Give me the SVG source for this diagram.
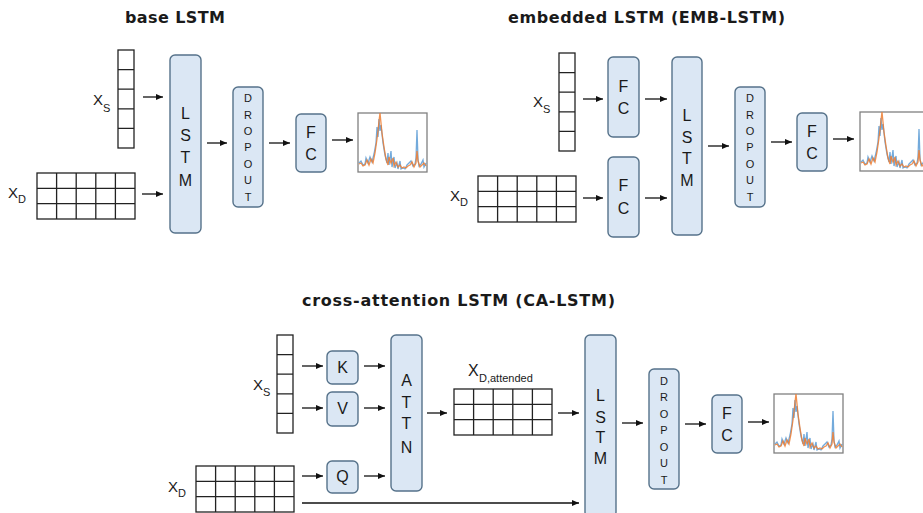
<svg xmlns="http://www.w3.org/2000/svg" xmlns:xlink="http://www.w3.org/1999/xlink" width="923" height="513" viewBox="0 0 923 513">
  <style>
    .title { font-family: "DejaVu Sans", "Liberation Sans", Arial, sans-serif; font-weight: bold; font-size: 16px; fill: #1a1a1a; }
    .lbl { font-family: "Liberation Sans", Arial, sans-serif; fill: #1a1a1a; }
    .x { font-size: 15px; }
    .sub { font-size: 11px; }
    .box { fill: #dbe7f4; stroke: #56728a; stroke-width: 1.4; }
    .big { font-family: "Liberation Sans", Arial, sans-serif; font-size: 16px; fill: #1a1a1a; text-anchor: middle; }
    .small { font-family: "Liberation Sans", Arial, sans-serif; font-size: 11px; fill: #1a1a1a; text-anchor: middle; }
    .grid { fill: #ffffff; stroke: #222222; stroke-width: 1.3; }
    .conn { stroke: #111111; stroke-width: 1.3; fill: none; marker-end: url(#arrow); }
  </style>
  <defs>
    <marker id="arrow" markerUnits="userSpaceOnUse" markerWidth="7" markerHeight="6" refX="7" refY="3" orient="auto">
      <path d="M0,0 L7,3 L0,6 z" fill="#111111"/>
    </marker>
    <!-- static-feature column vector: 5 cells -->
    <g id="vec">
      <rect class="grid" x="0" y="0" width="16" height="98"/>
      <path d="M0,19.6 H16 M0,39.2 H16 M0,58.8 H16 M0,78.4 H16" stroke="#222222" stroke-width="1.3"/>
    </g>
    <!-- dynamic-feature matrix: 5 columns x 3 rows -->
    <g id="mat">
      <rect class="grid" x="0" y="0" width="98" height="46"/>
      <path d="M19.6,0 V46 M39.2,0 V46 M58.8,0 V46 M78.4,0 V46 M0,15.33 H98 M0,30.67 H98" stroke="#222222" stroke-width="1.3"/>
    </g>
    <!-- small prediction-vs-observation time-series thumbnail -->
    <g id="plot">
      <rect x="0" y="0" width="69" height="59" fill="#ffffff" stroke="#808080" stroke-width="1.3"/>
      <path d="M1,50 L3,48 L5,52 L7,51 L8,45 L10,50 L12,44 L14,49 L16,41 L18,30 L19,14 L20,24 L21,6 L22,18 L23,12 L25,30 L27,42 L29,50 L30,40 L31,52 L33,38 L34,54 L36,44 L37,55 L39,50 L40,56 L42,48 L43,56 L45,55 L47,56 L49,52 L51,50 L53,48 L55,53 L57,51 L58,45 L59,17 L60,46 L61,53 L63,51 L65,47 L66,54 L68,50" fill="none" stroke="#5b9bd5" stroke-width="1.3" stroke-opacity="0.85"/>
      <path d="M1,51 L3,50 L5,53 L7,52 L9,47 L11,52 L13,46 L15,50 L17,40 L19,26 L20,18 L21,8 L22,0 L23,10 L24,20 L26,34 L28,46 L30,52 L31,44 L33,50 L35,45 L36,53 L38,49 L40,54 L42,52 L44,55 L46,54 L48,55 L50,53 L52,52 L54,49 L56,54 L58,50 L59,38 L60,48 L62,54 L64,52 L66,50 L68,53" fill="none" stroke="#ed7d31" stroke-width="1.3" stroke-opacity="0.85"/>
    </g>
  </defs>

  <rect width="923" height="513" fill="#ffffff"/>

  <!-- ===== base LSTM ===== -->
  <text class="title" x="125" y="23" textLength="100" lengthAdjust="spacing">base LSTM</text>

  <g id="base-xs">
    <use xlink:href="#vec" x="118" y="50"/>
    <text class="lbl x" x="93" y="105">X</text><text class="lbl sub" x="103" y="112">S</text>
  </g>
  <g id="base-xd">
    <use xlink:href="#mat" x="37" y="173"/>
    <text class="lbl x" x="8" y="198">X</text><text class="lbl sub" x="18" y="203">D</text>
  </g>
  <g id="base-lstm">
    <rect class="box" x="170" y="55" width="31" height="178" rx="5"/>
    <text class="big" x="185.5" y="119">L</text><text class="big" x="185.5" y="141">S</text>
    <text class="big" x="185.5" y="163">T</text><text class="big" x="185.5" y="186">M</text>
  </g>
  <g id="base-dropout">
    <rect class="box" x="233" y="87" width="30" height="120" rx="5"/>
    <text class="small" x="248" y="102">D</text><text class="small" x="248" y="119">R</text>
    <text class="small" x="248" y="135">O</text><text class="small" x="248" y="151">P</text>
    <text class="small" x="248" y="168">O</text><text class="small" x="248" y="184">U</text>
    <text class="small" x="248" y="201">T</text>
  </g>
  <g id="base-fc">
    <rect class="box" x="296" y="114" width="30" height="58" rx="5"/>
    <text class="big" x="311" y="138">F</text><text class="big" x="311" y="160">C</text>
  </g>
  <g id="base-out"><use xlink:href="#plot" x="358" y="113"/></g>

  <!-- ===== embedded LSTM ===== -->
  <text class="title" x="508" y="23" textLength="277" lengthAdjust="spacing">embedded LSTM (EMB-LSTM)</text>

  <g id="emb-xs">
    <use xlink:href="#vec" x="559" y="53"/>
    <text class="lbl x" x="533" y="107">X</text><text class="lbl sub" x="543" y="113">S</text>
  </g>
  <g id="emb-xd">
    <use xlink:href="#mat" x="478" y="176"/>
    <text class="lbl x" x="450" y="201">X</text><text class="lbl sub" x="460" y="206">D</text>
  </g>
  <g id="emb-fc-s">
    <rect class="box" x="608" y="57" width="31" height="80" rx="5"/>
    <text class="big" x="623.5" y="92">F</text><text class="big" x="623.5" y="114">C</text>
  </g>
  <g id="emb-fc-d">
    <rect class="box" x="608" y="157" width="31" height="80" rx="5"/>
    <text class="big" x="623.5" y="191">F</text><text class="big" x="623.5" y="214">C</text>
  </g>
  <g id="emb-lstm">
    <rect class="box" x="672" y="57" width="30" height="178" rx="5"/>
    <text class="big" x="687" y="121">L</text><text class="big" x="687" y="143">S</text>
    <text class="big" x="687" y="164">T</text><text class="big" x="687" y="186">M</text>
  </g>
  <g id="emb-dropout">
    <rect class="box" x="735" y="87" width="30" height="120" rx="5"/>
    <text class="small" x="750" y="102">D</text><text class="small" x="750" y="119">R</text>
    <text class="small" x="750" y="135">O</text><text class="small" x="750" y="151">P</text>
    <text class="small" x="750" y="168">O</text><text class="small" x="750" y="184">U</text>
    <text class="small" x="750" y="201">T</text>
  </g>
  <g id="emb-fc">
    <rect class="box" x="797" y="113" width="30" height="58" rx="5"/>
    <text class="big" x="812" y="137">F</text><text class="big" x="812" y="159">C</text>
  </g>
  <g id="emb-out"><use xlink:href="#plot" x="860" y="112"/></g>

  <!-- ===== cross-attention LSTM ===== -->
  <text class="title" x="302" y="306" textLength="313" lengthAdjust="spacing">cross-attention LSTM (CA-LSTM)</text>

  <g id="ca-xs">
    <use xlink:href="#vec" x="277" y="335"/>
    <text class="lbl x" x="253" y="390">X</text><text class="lbl sub" x="263" y="396">S</text>
  </g>
  <g id="ca-xd">
    <use xlink:href="#mat" x="196" y="466"/>
    <text class="lbl x" x="168" y="492">X</text><text class="lbl sub" x="178" y="497">D</text>
  </g>
  <g id="ca-k">
    <rect class="box" x="327" y="351" width="31" height="33" rx="5"/>
    <text class="big" x="342.5" y="373">K</text>
  </g>
  <g id="ca-v">
    <rect class="box" x="327" y="392" width="31" height="34" rx="5"/>
    <text class="big" x="342.5" y="414">V</text>
  </g>
  <g id="ca-q">
    <rect class="box" x="327" y="461" width="31" height="32" rx="5"/>
    <text class="big" x="342.5" y="482">Q</text>
  </g>
  <g id="ca-attn">
    <rect class="box" x="391" y="335" width="31" height="156" rx="5"/>
    <text class="big" x="406.5" y="386">A</text><text class="big" x="406.5" y="408">T</text>
    <text class="big" x="406.5" y="429">T</text><text class="big" x="406.5" y="453">N</text>
  </g>
  <g id="ca-xd-attended">
    <use xlink:href="#mat" x="454" y="389"/>
    <text class="lbl" x="468" y="376" font-size="16">X</text><text class="lbl sub" x="479" y="382">D,attended</text>
  </g>
  <g id="ca-lstm">
    <rect class="box" x="585" y="335" width="31" height="182" rx="5"/>
    <text class="big" x="600.5" y="401">L</text><text class="big" x="600.5" y="423">S</text>
    <text class="big" x="600.5" y="443">T</text><text class="big" x="600.5" y="464">M</text>
  </g>
  <g id="ca-dropout">
    <rect class="box" x="649" y="369" width="30" height="120" rx="5"/>
    <text class="small" x="664" y="385">D</text><text class="small" x="664" y="401">R</text>
    <text class="small" x="664" y="418">O</text><text class="small" x="664" y="434">P</text>
    <text class="small" x="664" y="451">O</text><text class="small" x="664" y="467">U</text>
    <text class="small" x="664" y="484">T</text>
  </g>
  <g id="ca-fc">
    <rect class="box" x="712" y="395" width="30" height="58" rx="5"/>
    <text class="big" x="727" y="419">F</text><text class="big" x="727" y="441">C</text>
  </g>
  <g id="ca-out"><use xlink:href="#plot" x="774" y="394"/></g>

  <!-- ===== connectors ===== -->
  <g id="connectors">
    <!-- base -->
    <line class="conn" x1="143" y1="97" x2="163" y2="97"/>
    <line class="conn" x1="142" y1="194" x2="163" y2="194"/>
    <line class="conn" x1="207" y1="143" x2="227" y2="143"/>
    <line class="conn" x1="269" y1="143" x2="290" y2="143"/>
    <line class="conn" x1="332" y1="140" x2="353" y2="140"/>
    <!-- embedded -->
    <line class="conn" x1="583" y1="99" x2="603" y2="99"/>
    <line class="conn" x1="645" y1="99" x2="667" y2="99"/>
    <line class="conn" x1="583" y1="198" x2="603" y2="198"/>
    <line class="conn" x1="645" y1="198" x2="667" y2="198"/>
    <line class="conn" x1="708" y1="146" x2="729" y2="146"/>
    <line class="conn" x1="771" y1="142" x2="792" y2="142"/>
    <line class="conn" x1="833" y1="139" x2="854" y2="139"/>
    <!-- cross-attention -->
    <line class="conn" x1="302" y1="366" x2="323" y2="366"/>
    <line class="conn" x1="364" y1="366" x2="385" y2="366"/>
    <line class="conn" x1="302" y1="408" x2="323" y2="408"/>
    <line class="conn" x1="364" y1="408" x2="385" y2="408"/>
    <line class="conn" x1="302" y1="476" x2="323" y2="476"/>
    <line class="conn" x1="364" y1="476" x2="385" y2="476"/>
    <line class="conn" x1="427" y1="413" x2="447" y2="413"/>
    <line class="conn" x1="558" y1="413" x2="579" y2="413"/>
    <line class="conn" x1="302" y1="503" x2="579" y2="503"/>
    <line class="conn" x1="622" y1="423" x2="643" y2="423"/>
    <line class="conn" x1="685" y1="424" x2="706" y2="424"/>
    <line class="conn" x1="748" y1="422" x2="769" y2="422"/>
  </g>
</svg>
